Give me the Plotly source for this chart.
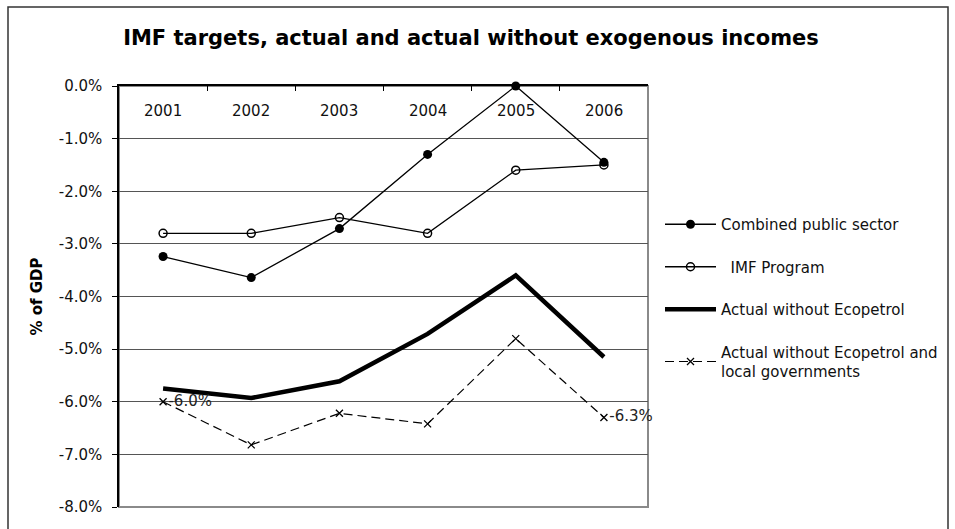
import plotly.graph_objects as go

# Fiscal balance, % of GDP
years = ["2001", "2002", "2003", "2004", "2005", "2006"]
combined_public_sector = [-3.24, -3.64, -2.71, -1.30, 0.0, -1.45]
imf_program = [-2.8, -2.8, -2.5, -2.8, -1.6, -1.5]
actual_without_ecopetrol = [-5.75, -5.93, -5.61, -4.71, -3.60, -5.15]
actual_without_ecopetrol_local = [-6.0, -6.82, -6.22, -6.42, -4.80, -6.3]

# y-axis ticks
y_ticks = [0, -1, -2, -3, -4, -5, -6, -7, -8]

# values printed next to the end points of the dashed series
label_points = {0, 5}

FONT = "DejaVu Sans"
W, H = 955, 529
L, R, T, B = 119, 307, 86, 22
plot_w = W - L - R
plot_h = H - T - B


def px_x(px):
    return (px - L) / plot_w


def px_y(py):
    return (H - B - py) / plot_h


def pct(v):
    return f"{v:.1f}%"


fig = go.Figure()

fig.add_trace(go.Scatter(
    x=years, y=combined_public_sector, name="Combined public sector",
    mode="lines+markers", legendgroup="a", cliponaxis=False,
    line=dict(color="black", width=1.3),
    marker=dict(symbol="circle", size=9, color="black"),
))
fig.add_trace(go.Scatter(
    x=years, y=imf_program, name="  IMF Program",
    mode="lines+markers", legendgroup="b", cliponaxis=False,
    line=dict(color="black", width=1.3),
    marker=dict(symbol="circle-open", size=8, color="black", line=dict(width=1.5)),
))
fig.add_trace(go.Scatter(
    x=years, y=actual_without_ecopetrol, name="Actual without Ecopetrol",
    mode="lines", legendgroup="c",
    line=dict(color="black", width=4.5),
))
fig.add_trace(go.Scatter(
    x=years, y=actual_without_ecopetrol_local,
    name="Actual without Ecopetrol and<br>local governments",
    mode="lines+markers+text", legendgroup="d", cliponaxis=False,
    line=dict(color="black", width=1.2, dash="9px,5px"),
    marker=dict(symbol="x-thin", size=7, color="black", line=dict(width=1.3, color="black")),
    text=[pct(v) if i in label_points else ""
          for i, v in enumerate(actual_without_ecopetrol_local)],
    textposition="middle right",
    textfont=dict(family=FONT, size=15, color="#222"),
))

# category labels sit just under the top (zero) axis line;
# x is the category index on the category axis
for i, yr in enumerate(years):
    fig.add_annotation(
        x=i, xref="x", y=px_y(111), yref="paper", text=yr, showarrow=False,
        xanchor="center", yanchor="middle",
        font=dict(family=FONT, size=15, color="#111"),
    )

# plot-area frame (right and bottom edges in grey) and outer chart border
fig.add_shape(type="rect", xref="paper", yref="paper", x0=0, x1=1, y0=0, y1=1,
              line=dict(color="#8a8a8a", width=2), layer="below")
fig.add_shape(type="rect", xref="paper", yref="paper",
              x0=px_x(8), x1=px_x(948), y0=px_y(560), y1=px_y(7),
              line=dict(color="#333", width=1.5))

fig.update_layout(
    width=W, height=H,
    margin=dict(l=L, r=R, t=T, b=B),
    paper_bgcolor="white", plot_bgcolor="white",
    font=dict(family=FONT, size=15, color="#111"),
    title=dict(
        text="<b>IMF targets, actual and actual without exogenous incomes</b>",
        x=471 / W, xanchor="center", y=1 - 38 / H, yanchor="middle",
        font=dict(family=FONT, size=21, color="black"),
    ),
    showlegend=True,
    legend=dict(
        x=px_x(660), xanchor="left", y=px_y(208), yanchor="top",
        font=dict(family=FONT, size=15, color="#111"),
        tracegroupgap=20, itemwidth=51, bgcolor="rgba(0,0,0,0)",
    ),
)

fig.update_xaxes(
    type="category", side="top", range=[-0.5, 5.5],
    ticks="inside", ticklen=5, tickcolor="black", tickson="boundaries",
    showticklabels=False,
    showline=True, linecolor="black", linewidth=1.5,
    showgrid=False, zeroline=False,
)
fig.update_yaxes(
    range=[-8, 0], tickmode="array", tickvals=y_ticks,
    ticktext=[pct(v) for v in y_ticks],
    ticks="outside", ticklen=5, tickcolor="black", ticklabelstandoff=7,
    showline=True, linecolor="black", linewidth=1.5,
    showgrid=True, gridcolor="#555", gridwidth=1, zeroline=False,
    tickfont=dict(family=FONT, size=15, color="#111"),
    title=dict(text="<b>% of GDP</b>", font=dict(family=FONT, size=15, color="black"), standoff=12),
)

fig.write_html("out.html")
